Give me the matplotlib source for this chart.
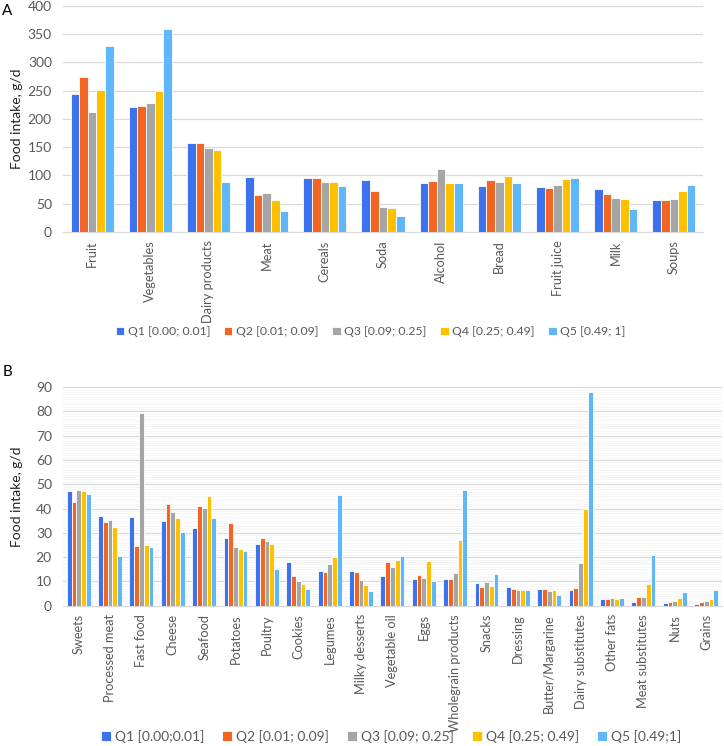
import matplotlib
matplotlib.use("Agg")
import matplotlib.pyplot as plt
from matplotlib.ticker import MultipleLocator
import numpy as np

plt.rcParams['font.family'] = ['Lato', 'DejaVu Sans']

# panel A
cats_a = ["Fruit", "Vegetables", "Dairy products", "Meat", "Cereals", "Soda",
          "Alcohol", "Bread", "Fruit juice", "Milk", "Soups"]
q1_a = [244, 222, 158, 98, 95, 92, 86, 82, 80, 76, 57]
q2_a = [274, 223, 158, 65, 96, 73, 90, 92, 78, 68, 57]
q3_a = [212, 229, 148, 69, 88, 45, 112, 89, 83, 60, 59]
q4_a = [251, 250, 145, 56, 88, 42, 87, 99, 93, 59, 72]
q5_a = [330, 359, 88, 37, 82, 28, 86, 86, 96, 41, 83]

# panel B
cats_b = ["Sweets", "Processed meat", "Fast food", "Cheese", "Seafood", "Potatoes",
          "Poultry", "Cookies", "Legumes", "Milky desserts", "Vegetable oil", "Eggs",
          "Wholegrain products", "Snacks", "Dressing", "Butter/Margarine",
          "Dairy substitutes", "Other fats", "Meat substitutes", "Nuts", "Grains"]
q1_b = [47.4, 36.8, 36.7, 34.7, 31.9, 27.7, 25.5, 18.1, 14.5, 14.3, 12.3, 11.0,
        11.0, 9.3, 7.9, 6.8, 6.6, 2.7, 1.5, 1.1, 0.7]
q2_b = [42.9, 34.4, 24.8, 41.8, 41.0, 34.0, 27.7, 12.2, 14.1, 14.1, 18.1, 12.8,
        10.9, 7.8, 6.8, 6.8, 7.5, 2.9, 3.4, 1.5, 1.5]
q3_b = [47.7, 35.2, 79.3, 38.8, 40.3, 24.0, 26.8, 10.3, 17.0, 10.7, 16.1, 11.4,
        13.3, 9.8, 6.6, 6.2, 17.8, 3.3, 3.7, 1.9, 1.9]
q4_b = [47.4, 32.3, 24.9, 36.2, 45.0, 23.3, 25.6, 8.9, 20.1, 8.4, 18.8, 18.4,
        27.0, 8.2, 6.3, 6.3, 39.7, 2.7, 9.0, 3.0, 2.7]
q5_b = [46.0, 20.4, 24.0, 30.5, 36.2, 22.6, 15.2, 7.1, 45.8, 6.0, 20.4, 10.3,
        47.7, 13.0, 6.3, 4.5, 88.0, 3.3, 21.1, 5.6, 6.4]

labels_a = ["Q1 [0.00; 0.01]", "Q2 [0.01; 0.09]", "Q3 [0.09; 0.25]",
            "Q4 [0.25; 0.49]", "Q5 [0.49; 1]"]
labels_b = ["Q1 [0.00;0.01]", "Q2 [0.01; 0.09]", "Q3 [0.09; 0.25]",
            "Q4 [0.25; 0.49]", "Q5 [0.49;1]"]
colors = ["#3d72ee", "#f26522", "#a5a5a5", "#ffc000", "#5fb6f8"]
txt = "#595959"

fig = plt.figure(figsize=(7.24, 7.46), dpi=100)
axA = fig.add_axes([0.087, 0.689, 0.884, 0.303])
axB = fig.add_axes([0.087, 0.188, 0.910, 0.293])


def draw(ax, cats, series, labels, w, ylim, major, minor=None):
    x = np.arange(len(cats))
    handles = []
    for i, (vals, c) in enumerate(zip(series, colors)):
        h = ax.bar(x + (i - 2) * w, vals, width=w, color=c, edgecolor="white",
                   linewidth=0.6, label=labels[i], zorder=3)
        handles.append(h)
    ax.set_xlim(-0.5, len(cats) - 0.5)
    ax.set_ylim(*ylim)
    ax.yaxis.set_major_locator(MultipleLocator(major))
    ax.grid(axis="y", which="major", color="#d9d9d9", linewidth=0.9, zorder=0)
    if minor:
        ax.yaxis.set_minor_locator(MultipleLocator(minor))
        ax.grid(axis="y", which="minor", color="#f3f3f3", linewidth=0.5, zorder=0)
    ax.set_xticks(x)
    ax.set_xticklabels(cats, rotation=90, fontsize=9.2, color=txt)
    ax.tick_params(axis="both", which="both", length=0, colors=txt)
    ax.tick_params(axis="y", labelsize=10, pad=8)
    ax.tick_params(axis="x", pad=6)
    for s in ["top", "right", "left"]:
        ax.spines[s].set_visible(False)
    ax.spines["bottom"].set_color("#d9d9d9")
    ax.set_ylabel("Food intake, g/d", fontsize=10, color="#222222")
    return handles


hA = draw(axA, cats_a, [q1_a, q2_a, q3_a, q4_a, q5_a], labels_a, 0.148, (0, 400), 50)
hB = draw(axB, cats_b, [q1_b, q2_b, q3_b, q4_b, q5_b], labels_b, 0.152, (0, 90), 10, 1)
axA.yaxis.set_label_coords(-0.062, 0.5)
axB.yaxis.set_label_coords(-0.060, 0.5)

fig.legend(handles=hA, labels=labels_a, loc="center", bbox_to_anchor=(0.512, 0.555),
           ncol=5, frameon=False, fontsize=8.8, handlelength=0.7, handleheight=0.7,
           handletextpad=0.3, columnspacing=1.1, labelcolor=txt)
fig.legend(handles=hB, labels=labels_b, loc="center", bbox_to_anchor=(0.54, 0.013),
           ncol=5, frameon=False, fontsize=10, handlelength=0.7, handleheight=0.7,
           handletextpad=0.3, columnspacing=1.3, labelcolor=txt)

fig.text(0.003, 0.985, "A", fontsize=11, va="center", ha="left")
fig.text(0.003, 0.501, "B", fontsize=11, va="center", ha="left")

fig.savefig("out.png", dpi=100)
